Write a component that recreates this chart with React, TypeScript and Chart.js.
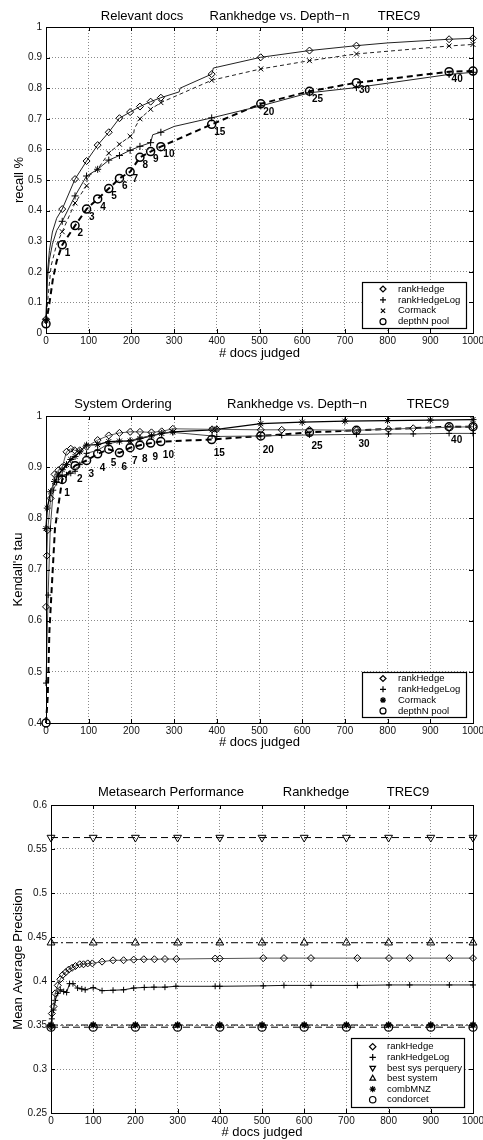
import React, { useEffect, useRef } from 'react';
import { Chart, registerables } from 'chart.js';

Chart.register(...registerables);

const FONT = '"Liberation Sans", Arial, Helvetica, sans-serif';
Chart.defaults.font.family = FONT;

// ---------- shared ----------
const X_TICK_STEP = 100;
const DEPTH_DOCS = [0, 38, 68, 95, 121, 147, 172, 197, 220, 245, 269, 388, 503, 617, 727, 944, 1000];
const DEPTH_LABELS = ['', '1', '2', '3', '4', '5', '6', '7', '8', '9', '10', '15', '20', '25', '30', '40', ''];

// ---------- chart 1: recall ----------
const REC_HEDGE_X = [0, 3, 8, 15, 25, 38, 68, 95, 121, 147, 172, 197, 220, 245, 269, 312, 314, 388, 392, 503, 617, 727, 800, 944, 1000];
const REC_HEDGE_Y = [0.045, 0.19, 0.27, 0.33, 0.375, 0.405, 0.503, 0.562, 0.614, 0.656, 0.702, 0.722, 0.74, 0.756, 0.769, 0.788, 0.8, 0.846, 0.866, 0.901, 0.923, 0.939, 0.948, 0.96, 0.963];
const REC_LOG_X = [0, 3, 8, 15, 25, 38, 68, 95, 121, 147, 172, 197, 220, 245, 250, 269, 300, 388, 503, 617, 727, 944, 1000];
const REC_LOG_Y = [0.045, 0.17, 0.24, 0.29, 0.335, 0.365, 0.448, 0.513, 0.535, 0.565, 0.58, 0.597, 0.61, 0.622, 0.648, 0.656, 0.675, 0.703, 0.742, 0.785, 0.802, 0.845, 0.852];
const REC_CORM_X = [0, 5, 12, 25, 38, 68, 95, 97, 121, 147, 172, 197, 205, 207, 220, 245, 269, 388, 503, 617, 727, 944, 1000];
const REC_CORM_Y = [0.04, 0.12, 0.22, 0.29, 0.331, 0.425, 0.481, 0.51, 0.535, 0.588, 0.617, 0.643, 0.648, 0.668, 0.7, 0.731, 0.753, 0.826, 0.863, 0.89, 0.912, 0.938, 0.943];
const REC_DEPTH_X = [0, 8, 16, 25, 38, 68, 95, 121, 147, 172, 197, 220, 245, 269, 388, 503, 617, 727, 944, 1000];
const REC_DEPTH_Y = [0.03, 0.097, 0.175, 0.235, 0.288, 0.351, 0.405, 0.438, 0.472, 0.505, 0.527, 0.574, 0.593, 0.609, 0.682, 0.749, 0.79, 0.818, 0.854, 0.856];

// ---------- chart 2: Kendall's tau ----------
const TAU_HEDGE_X = [0, 2, 4, 11, 20, 29, 38, 48, 58, 67, 79, 95, 121, 147, 172, 197, 220, 247, 271, 297, 389, 400, 503, 552, 617, 727, 802, 860, 944, 1000];
const TAU_HEDGE_Y = [0.627, 0.727, 0.777, 0.839, 0.886, 0.894, 0.9, 0.93, 0.936, 0.933, 0.933, 0.94, 0.953, 0.962, 0.967, 0.969, 0.969, 0.968, 0.97, 0.975, 0.974, 0.974, 0.973, 0.973, 0.973, 0.972, 0.974, 0.976, 0.978, 0.979];
const TAU_LOG_X = [0, 5, 10, 17, 25, 38, 48, 58, 68, 79, 95, 121, 147, 172, 197, 220, 247, 271, 297, 389, 400, 503, 552, 617, 727, 802, 860, 944, 1000];
const TAU_LOG_Y = [0.478, 0.65, 0.78, 0.855, 0.87, 0.882, 0.885, 0.888, 0.892, 0.905, 0.927, 0.933, 0.946, 0.95, 0.952, 0.957, 0.962, 0.966, 0.968, 0.961, 0.96, 0.961, 0.962, 0.963, 0.964, 0.965, 0.965, 0.966, 0.966];
const TAU_CORM_X = [0, 3, 11, 20, 29, 38, 48, 58, 68, 79, 95, 121, 147, 172, 197, 220, 247, 271, 297, 389, 400, 503, 600, 700, 800, 900, 1000];
const TAU_CORM_Y = [0.78, 0.82, 0.852, 0.872, 0.885, 0.895, 0.905, 0.915, 0.921, 0.93, 0.943, 0.944, 0.95, 0.951, 0.951, 0.956, 0.961, 0.966, 0.969, 0.973, 0.974, 0.985, 0.988, 0.99, 0.991, 0.992, 0.993];
const TAU_DEPTH_X = [0, 4, 8, 21, 38, 68, 95, 121, 147, 172, 197, 220, 245, 269, 388, 503, 617, 727, 944, 1000];
const TAU_DEPTH_Y = [0.4, 0.45, 0.58, 0.78, 0.876, 0.903, 0.913, 0.926, 0.935, 0.928, 0.938, 0.943, 0.947, 0.95, 0.954, 0.961, 0.968, 0.972, 0.979, 0.979];

// ---------- chart 3: MAP ----------
const MAP_HEDGE_X = [0, 2, 6, 10, 16, 22, 28, 35, 42, 50, 58, 68, 77, 87, 98, 121, 147, 172, 196, 220, 245, 270, 297, 389, 400, 503, 552, 616, 726, 801, 850, 944, 1000];
const MAP_HEDGE_Y = [0.348, 0.363, 0.371, 0.386, 0.395, 0.402, 0.407, 0.41, 0.413, 0.415, 0.417, 0.419, 0.419, 0.42, 0.42, 0.422, 0.4235, 0.4236, 0.4243, 0.4247, 0.4247, 0.425, 0.425, 0.4255, 0.4255, 0.426, 0.426, 0.426, 0.426, 0.426, 0.426, 0.426, 0.426];
const MAP_LOG_X = [0, 2, 6, 10, 16, 22, 30, 37, 44, 52, 63, 73, 81, 100, 121, 147, 172, 196, 221, 244, 270, 296, 389, 400, 503, 552, 616, 726, 801, 850, 944, 1000];
const MAP_LOG_Y = [0.348, 0.357, 0.367, 0.378, 0.386, 0.39, 0.388, 0.387, 0.397, 0.397, 0.392, 0.391, 0.39, 0.3925, 0.389, 0.3895, 0.39, 0.392, 0.3927, 0.393, 0.393, 0.394, 0.394, 0.394, 0.3945, 0.395, 0.395, 0.395, 0.3955, 0.3955, 0.3955, 0.3955];
const MAP_FLAT_X = [0, 100, 200, 300, 400, 500, 600, 700, 800, 900, 1000];
const MAP_BEST_PQ_Y = [0.563, 0.563, 0.563, 0.563, 0.563, 0.563, 0.563, 0.563, 0.563, 0.563, 0.563];
const MAP_BEST_SYS_Y = [0.4435, 0.4435, 0.4435, 0.4435, 0.4435, 0.4435, 0.4435, 0.4435, 0.4435, 0.4435, 0.4435];
const MAP_COMBMNZ_Y = [0.35, 0.35, 0.35, 0.35, 0.35, 0.35, 0.35, 0.35, 0.35, 0.35, 0.35];
const MAP_CONDORCET_Y = [0.3475, 0.3475, 0.3475, 0.3475, 0.3475, 0.3475, 0.3475, 0.3475, 0.3475, 0.3475, 0.3475];

// ---------- helpers ----------
const W = 483;

function pts(xs: number[], ys: number[]) {
  return xs.map((x, i) => ({ x, y: ys[i] }));
}

type SOpt = { ps: string; r: number; color?: string; lw?: number; dash?: number[]; rot?: number; pw?: number; markAt?: number[] };

function series(label: string, xs: number[], ys: number[], o: SOpt) {
  return {
    label,
    data: pts(xs, ys),
    borderColor: o.color ?? '#000',
    borderWidth: o.lw ?? 1,
    borderDash: o.dash ?? [],
    pointStyle: o.ps,
    pointRotation: o.rot ?? 0,
    pointRadius: o.markAt ? (c: any) => (o.markAt!.includes(c.raw?.x) ? o.r : 0) : o.r,
    pointBorderColor: '#000',
    pointBorderWidth: o.pw ?? 1,
    pointBackgroundColor: 'rgba(0,0,0,0)',
    tension: 0,
    fill: false,
    clip: false,
  };
}

function drawMarker(ctx: CanvasRenderingContext2D, style: string, x: number, y: number, r: number, rotDeg: number) {
  const rot = (rotDeg * Math.PI) / 180;
  ctx.beginPath();
  const line = (a: number, len: number) => {
    const dx = Math.cos(a) * len, dy = Math.sin(a) * len;
    ctx.moveTo(x - dx, y - dy);
    ctx.lineTo(x + dx, y + dy);
  };
  switch (style) {
    case 'circle':
      ctx.arc(x, y, r, 0, Math.PI * 2);
      break;
    case 'rectRot':
      ctx.moveTo(x - r, y); ctx.lineTo(x, y - r); ctx.lineTo(x + r, y); ctx.lineTo(x, y + r); ctx.closePath();
      break;
    case 'cross':
      line(rot, r); line(rot + Math.PI / 2, r);
      break;
    case 'crossRot':
      line(rot + Math.PI / 4, r); line(rot + (3 * Math.PI) / 4, r);
      break;
    case 'star':
      line(rot, r); line(rot + Math.PI / 2, r); line(rot + Math.PI / 4, r); line(rot + (3 * Math.PI) / 4, r);
      break;
    case 'triangle': {
      let a = rot;
      ctx.moveTo(x + Math.sin(a) * r, y - Math.cos(a) * r);
      a += (2 * Math.PI) / 3;
      ctx.lineTo(x + Math.sin(a) * r, y - Math.cos(a) * r);
      a += (2 * Math.PI) / 3;
      ctx.lineTo(x + Math.sin(a) * r, y - Math.cos(a) * r);
      ctx.closePath();
      break;
    }
  }
  ctx.stroke();
}

type Spec = {
  top: number;
  height: number;
  area: { left: number; top: number; right: number; bottom: number };
  yMin: number; yMax: number; yStep: number;
  xTitle: string; yTitle: string;
  xTitleY: number; yTitleX: number;
  titleY: number; titleParts: { text: string; x: number }[];
  datasets: any[];
  legend: { x: number; y: number; w: number; h: number; rowTop: number; rowH: number; markerX: number; textX: number; r: number };
  depth?: { datasetIndex: number; dx: number; dy: number };
};

const SPECS: Spec[] = [
  {
    top: 0, height: 370,
    area: { left: 46, top: 27, right: 473, bottom: 333 },
    yMin: 0, yMax: 1, yStep: 0.1,
    xTitle: '# docs judged', yTitle: 'recall %',
    xTitleY: 353.5, yTitleX: 19,
    titleY: 16,
    titleParts: [{ text: 'Relevant docs', x: 142 }, { text: 'Rankhedge vs. Depth\u2212n', x: 279.5 }, { text: 'TREC9', x: 399 }],
    datasets: [
      series('rankHedge', REC_HEDGE_X, REC_HEDGE_Y, { ps: 'rectRot', r: 3.5, color: '#222', markAt: DEPTH_DOCS }),
      series('rankHedgeLog', REC_LOG_X, REC_LOG_Y, { ps: 'cross', r: 3.5, color: '#222', markAt: DEPTH_DOCS }),
      series('Cormack', REC_CORM_X, REC_CORM_Y, { ps: 'crossRot', r: 3.5, color: '#222', dash: [4, 3], markAt: DEPTH_DOCS }),
      series('depthN pool', REC_DEPTH_X, REC_DEPTH_Y, { ps: 'circle', r: 4, lw: 2, pw: 1.5, dash: [6, 4], markAt: DEPTH_DOCS }),
    ],
    legend: { x: 362, y: 282, w: 104, h: 46, rowTop: 289, rowH: 10.9, markerX: 383, textX: 398, r: 3 },
    depth: { datasetIndex: 3, dx: 2.5, dy: 8 },
  },
  {
    top: 380, height: 380,
    area: { left: 46, top: 36, right: 473, bottom: 343 },
    yMin: 0.4, yMax: 1, yStep: 0.1,
    xTitle: '# docs judged', yTitle: "Kendall's tau",
    xTitleY: 362.7, yTitleX: 18,
    titleY: 24,
    titleParts: [{ text: 'System Ordering', x: 123 }, { text: 'Rankhedge vs. Depth\u2212n', x: 297 }, { text: 'TREC9', x: 428 }],
    datasets: [
      series('rankHedge', TAU_HEDGE_X, TAU_HEDGE_Y, { ps: 'rectRot', r: 3.5, color: '#555' }),
      series('rankHedgeLog', TAU_LOG_X, TAU_LOG_Y, { ps: 'cross', r: 3, color: '#444' }),
      series('Cormack', TAU_CORM_X, TAU_CORM_Y, { ps: 'star', r: 3.5, lw: 1.3, pw: 1 }),
      series('depthN pool', TAU_DEPTH_X, TAU_DEPTH_Y, { ps: 'circle', r: 4, lw: 2, pw: 1.5, dash: [6, 4], markAt: DEPTH_DOCS }),
    ],
    legend: { x: 362, y: 292, w: 104, h: 45, rowTop: 298.5, rowH: 10.8, markerX: 383, textX: 398, r: 3 },
    depth: { datasetIndex: 3, dx: 2, dy: 14 },
  },
  {
    top: 760, height: 380,
    area: { left: 51, top: 45, right: 473, bottom: 353 },
    yMin: 0.25, yMax: 0.6, yStep: 0.05,
    xTitle: '# docs judged', yTitle: 'Mean Average Precision',
    xTitleY: 372.7, yTitleX: 18.3,
    titleY: 32.7,
    titleParts: [{ text: 'Metasearch Performance', x: 171 }, { text: 'Rankhedge', x: 316 }, { text: 'TREC9', x: 408 }],
    datasets: [
      series('rankHedge', MAP_HEDGE_X, MAP_HEDGE_Y, { ps: 'rectRot', r: 3.5, color: '#555' }),
      series('rankHedgeLog', MAP_LOG_X, MAP_LOG_Y, { ps: 'cross', r: 3, color: '#111' }),
      series('best sys perquery', MAP_FLAT_X, MAP_BEST_PQ_Y, { ps: 'triangle', r: 4.5, rot: 180, dash: [7, 4] }),
      series('best system', MAP_FLAT_X, MAP_BEST_SYS_Y, { ps: 'triangle', r: 4.5, dash: [7, 3, 2, 3] }),
      series('combMNZ', MAP_FLAT_X, MAP_COMBMNZ_Y, { ps: 'star', r: 3.5, pw: 1.3, dash: [7, 3, 2, 3] }),
      series('condorcet', MAP_FLAT_X, MAP_CONDORCET_Y, { ps: 'circle', r: 4, pw: 1.3, dash: [7, 4] }),
    ],
    legend: { x: 351, y: 278, w: 113, h: 69, rowTop: 286.7, rowH: 10.6, markerX: 372.7, textX: 387, r: 3.2 },
  },
];

function makePlugins(spec: Spec) {
  const frame = {
    id: 'mframe',
    afterDatasetsDraw(chart: any) {
      const { ctx, chartArea: a, scales } = chart;
      ctx.save();
      ctx.setLineDash([]);
      ctx.strokeStyle = '#000';
      ctx.lineWidth = 1;
      ctx.strokeRect(Math.round(a.left) + 0.5, Math.round(a.top) + 0.5, Math.round(a.right - a.left), Math.round(a.bottom - a.top));
      const L = 4;
      ctx.beginPath();
      scales.x.ticks.forEach((t: any) => {
        const p = Math.round(scales.x.getPixelForValue(t.value)) + 0.5;
        ctx.moveTo(p, a.bottom); ctx.lineTo(p, a.bottom - L);
        ctx.moveTo(p, a.top); ctx.lineTo(p, a.top + L);
      });
      scales.y.ticks.forEach((t: any) => {
        const p = Math.round(scales.y.getPixelForValue(t.value)) + 0.5;
        ctx.moveTo(a.left, p); ctx.lineTo(a.left + L, p);
        ctx.moveTo(a.right, p); ctx.lineTo(a.right - L, p);
      });
      ctx.stroke();

      // title
      ctx.fillStyle = '#000';
      ctx.font = `13px ${FONT}`;
      ctx.textAlign = 'center';
      ctx.textBaseline = 'middle';
      spec.titleParts.forEach((p) => ctx.fillText(p.text, p.x, spec.titleY));

      // depth labels
      if (spec.depth) {
        const d = spec.depth;
        const ds = chart.data.datasets[d.datasetIndex];
        ctx.font = `bold 10px ${FONT}`;
        ctx.textAlign = 'left';
        DEPTH_DOCS.forEach((doc, i) => {
          const lab = DEPTH_LABELS[i];
          if (!lab) return;
          const pt = ds.data.find((q: any) => q.x === doc);
          if (!pt) return;
          const px = scales.x.getPixelForValue(doc);
          const py = scales.y.getPixelForValue(pt.y);
          ctx.fillText(lab, px + d.dx, py + d.dy);
        });
      }

      // legend
      const g = spec.legend;
      ctx.fillStyle = '#fff';
      ctx.fillRect(g.x, g.y, g.w, g.h);
      ctx.strokeStyle = '#000';
      ctx.lineWidth = 1.2;
      ctx.strokeRect(g.x + 0.5, g.y + 0.5, g.w, g.h);
      ctx.font = `9.5px ${FONT}`;
      ctx.textAlign = 'left';
      ctx.textBaseline = 'middle';
      chart.data.datasets.forEach((ds: any, i: number) => {
        const y = g.rowTop + i * g.rowH;
        ctx.strokeStyle = '#000';
        ctx.lineWidth = 1.2;
        ctx.setLineDash([]);
        drawMarker(ctx, ds.pointStyle, g.markerX, y, g.r, ds.pointRotation || 0);
        ctx.fillStyle = '#000';
        ctx.fillText(ds.label, g.textX, y);
      });
      ctx.restore();
    },
  };
  return [frame];
}

function buildConfig(spec: Spec): any {
  const a = spec.area;
  const H = spec.height;
  const titleFont = { family: FONT, size: 13, lineHeight: 1 };
  return {
    type: 'line',
    data: { datasets: spec.datasets },
    options: {
      animation: false,
      responsive: false,
      events: [],
      layout: { padding: { top: a.top, right: W - a.right, left: 0, bottom: 0 } },
      scales: {
        x: {
          type: 'linear',
          min: 0,
          max: 1000,
          ticks: {
            stepSize: X_TICK_STEP,
            autoSkip: false,
            maxRotation: 0,
            padding: 2,
            color: '#111',
            font: { family: FONT, size: 10 },
            callback: (v: any) => String(v),
          },
          grid: { color: '#8a8a8a', lineWidth: 1, drawTicks: false },
          border: { display: false, dash: [1, 2] },
          title: {
            display: true,
            text: spec.xTitle,
            color: '#000',
            font: titleFont,
            padding: { top: 0, bottom: Math.max(0, H - spec.xTitleY - 6.5) },
          },
          afterFit: (s: any) => {
            s.height = H - a.bottom;
            s.paddingLeft = 0;
            s.paddingRight = 0;
          },
        },
        y: {
          type: 'linear',
          min: spec.yMin,
          max: spec.yMax,
          ticks: {
            stepSize: spec.yStep,
            autoSkip: false,
            padding: 4,
            color: '#111',
            font: { family: FONT, size: 10 },
            callback: (v: any) => String(Math.round(Number(v) * 100) / 100),
          },
          grid: { color: '#8a8a8a', lineWidth: 1, drawTicks: false },
          border: { display: false, dash: [1, 2] },
          title: {
            display: true,
            text: spec.yTitle,
            color: '#000',
            font: titleFont,
            padding: { top: Math.max(0, spec.yTitleX - 6.5), bottom: 0 },
          },
          afterFit: (s: any) => {
            s.width = a.left;
            s.paddingTop = 0;
            s.paddingBottom = 0;
          },
        },
      },
      plugins: {
        legend: { display: false },
        tooltip: { enabled: false },
        title: { display: false },
      },
    },
    plugins: makePlugins(spec),
  };
}

function Panel({ spec }: { spec: Spec }) {
  const ref = useRef<HTMLCanvasElement>(null);
  useEffect(() => {
    if (!ref.current) return;
    const chart = new Chart(ref.current, buildConfig(spec));
    return () => chart.destroy();
  }, [spec]);
  return (
    <canvas
      ref={ref}
      width={W}
      height={spec.height}
      style={{ position: 'absolute', left: 0, top: spec.top, width: W, height: spec.height }}
    />
  );
}

export default function App() {
  return (
    <div style={{ position: 'absolute', left: 0, top: 0, width: W, height: 1140, background: '#fff', overflow: 'hidden' }}>
      {SPECS.map((s, i) => (
        <Panel key={i} spec={s} />
      ))}
    </div>
  );
}
